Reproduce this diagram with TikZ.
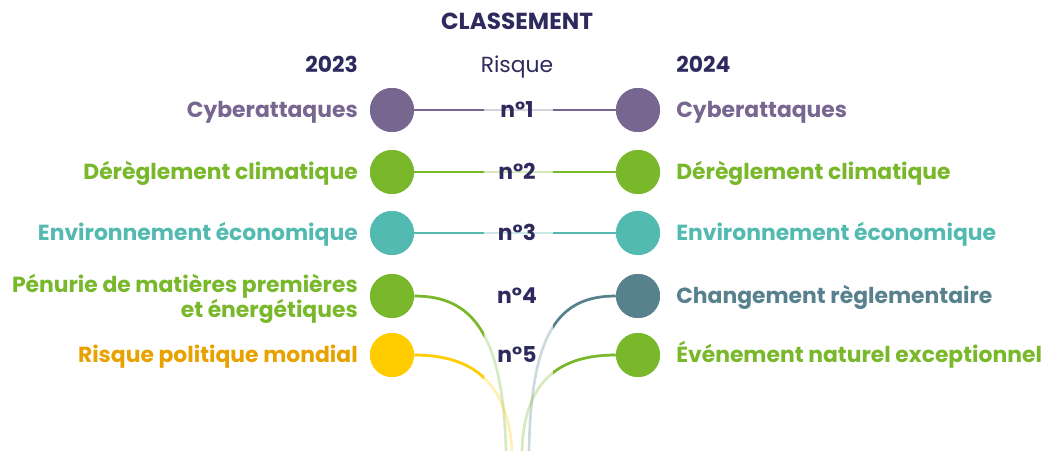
\documentclass[tikz,border=0pt]{standalone}
\usepackage{fontspec}
\setmainfont{Poppins}
\usepackage{tikz}
\usetikzlibrary{positioning, calc}
\definecolor{navyink}{HTML}{2E2A5E}
\definecolor{cyberpurple}{HTML}{766690}
\definecolor{climgreen}{HTML}{78B82A}
\definecolor{ecoteal}{HTML}{52BAB0}
\definecolor{reglslate}{HTML}{58818E}
\definecolor{polyellow}{HTML}{FFCC00}
\definecolor{polorange}{HTML}{E8A200}

\tikzset{
  dot/.style={circle, fill=#1, minimum size=33pt, inner sep=0pt},
  lefttext/.style={anchor=mid east, yshift=-3pt, font=\bfseries\fontsize{16.4}{18.5}\selectfont, text=#1, align=right, inner sep=0pt},
  righttext/.style={anchor=mid west, yshift=-3pt, font=\bfseries\fontsize{16.4}{18.5}\selectfont, text=#1, inner sep=0pt},
  ranktext/.style={anchor=mid, yshift=-3pt, font=\bfseries\fontsize{16.4}{18.5}\selectfont, text=navyink, inner sep=0pt},
  faded/.style={draw=#1, line width=2pt, opacity=0.3},
  solid link/.style={draw=#1, line width=2pt}
}

\begin{document}
\begin{tikzpicture}[x=0.75pt, y=-0.75pt]
  \useasboundingbox (0,0) rectangle (1048,451);

  % headings
  \node[font=\bfseries\fontsize{17.4}{19}\selectfont, text=navyink] (title) at (517,21) {CLASSEMENT};
  \node[anchor=mid east, yshift=-3pt, font=\bfseries\fontsize{16.4}{18.5}\selectfont, text=navyink, inner sep=0pt] (y23) at (358,65) {2023};
  \node[anchor=mid west, yshift=-3pt, font=\bfseries\fontsize{16.4}{18.5}\selectfont, text=navyink, inner sep=0pt] (y24) at (676,65) {2024};
  \node[anchor=mid, yshift=-3pt, font=\fontsize{16.4}{18.5}\selectfont, text=navyink, inner sep=0pt] (risk) at (517,65) {Risque};

  % circles 2023 / 2024
  \node[dot=cyberpurple] (l1) at (392,110) {};
  \node[dot=climgreen]   (l2) at (392,172) {};
  \node[dot=ecoteal]     (l3) at (392,233) {};
  \node[dot=climgreen]   (l4) at (392,296) {};
  \node[dot=polyellow]   (l5) at (392,355) {};
  \node[dot=cyberpurple] (r1) at (638,110) {};
  \node[dot=climgreen]   (r2) at (638,172) {};
  \node[dot=ecoteal]     (r3) at (638,233) {};
  \node[dot=reglslate]   (r4) at (638,296) {};
  \node[dot=climgreen]   (r5) at (638,355) {};

  % loose ends at the bottom
  \coordinate (b4l) at (506,451);
  \coordinate (b5l) at (512,451);
  \coordinate (b4r) at (529,451);
  \coordinate (b5r) at (522,451);

  % faded connectors
  \path[faded=cyberpurple] (l1) -- (r1);
  \path[faded=climgreen] (l2) -- (r2);
  \path[faded=ecoteal] (l3) -- (r3);
  \path[faded=climgreen] (l4.east) .. controls (470,296) and (503,330) .. (b4l);
  \path[faded=polyellow] (l5.east) .. controls (470,355) and (508,380) .. (b5l);
  \path[faded=reglslate] (r4.west) .. controls (560,296) and (531,330) .. (b4r);
  \path[faded=climgreen] (r5.west) .. controls (560,355) and (524,380) .. (b5r);

  % solid parts, left side
  \begin{scope}
    \clip (0,0) rectangle (484,451);
    \path[solid link=cyberpurple] (l1) -- (r1);
    \path[solid link=climgreen] (l2) -- (r2);
    \path[solid link=ecoteal] (l3) -- (r3);
    \path[solid link=climgreen] (l4.east) .. controls (470,296) and (503,330) .. (b4l);
    \path[solid link=polyellow] (l5.east) .. controls (470,355) and (508,380) .. (b5l);
  \end{scope}
  % solid parts, right side
  \begin{scope}
    \clip (553,0) rectangle (1048,451);
    \path[solid link=cyberpurple] (l1) -- (r1);
    \path[solid link=climgreen] (l2) -- (r2);
    \path[solid link=ecoteal] (l3) -- (r3);
    \path[solid link=reglslate] (r4.west) .. controls (560,296) and (531,330) .. (b4r);
    \path[solid link=climgreen] (r5.west) .. controls (560,355) and (524,380) .. (b5r);
  \end{scope}

  % circles again on top
  \foreach \n/\c in {l1/cyberpurple, l2/climgreen, l3/ecoteal, l4/climgreen, l5/polyellow,
                     r1/cyberpurple, r2/climgreen, r3/ecoteal, r4/reglslate, r5/climgreen}
    \fill[\c] (\n) circle (16.5pt);

  % ranks
  \node[ranktext] (n1) at (517,110) {n°1};
  \node[ranktext] (n2) at (517,172) {n°2};
  \node[ranktext] (n3) at (517,233) {n°3};
  \node[ranktext] (n4) at (517,296) {n°4};
  \node[ranktext] (n5) at (517,355) {n°5};

  % labels 2023
  \node[lefttext=cyberpurple] (t1l) at (358,110) {Cyberattaques};
  \node[lefttext=climgreen] (t2l) at (358,172) {Dérèglement climatique};
  \node[lefttext=ecoteal] (t3l) at (358,233) {Environnement économique};
  \node[lefttext=climgreen, anchor=east, yshift=1.5pt] (t4l) at (358,297) {Pénurie de matières premières\\et énergétiques};
  \node[lefttext=polorange] (t5l) at (358,355) {Risque politique mondial};

  % labels 2024
  \node[righttext=cyberpurple] (t1r) at (676,110) {Cyberattaques};
  \node[righttext=climgreen] (t2r) at (676,172) {Dérèglement climatique};
  \node[righttext=ecoteal] (t3r) at (676,233) {Environnement économique};
  \node[righttext=reglslate] (t4r) at (676,296) {Changement règlementaire};
  \node[righttext=climgreen] (t5r) at (676,355) {Événement naturel exceptionnel};
\end{tikzpicture}
\end{document}
